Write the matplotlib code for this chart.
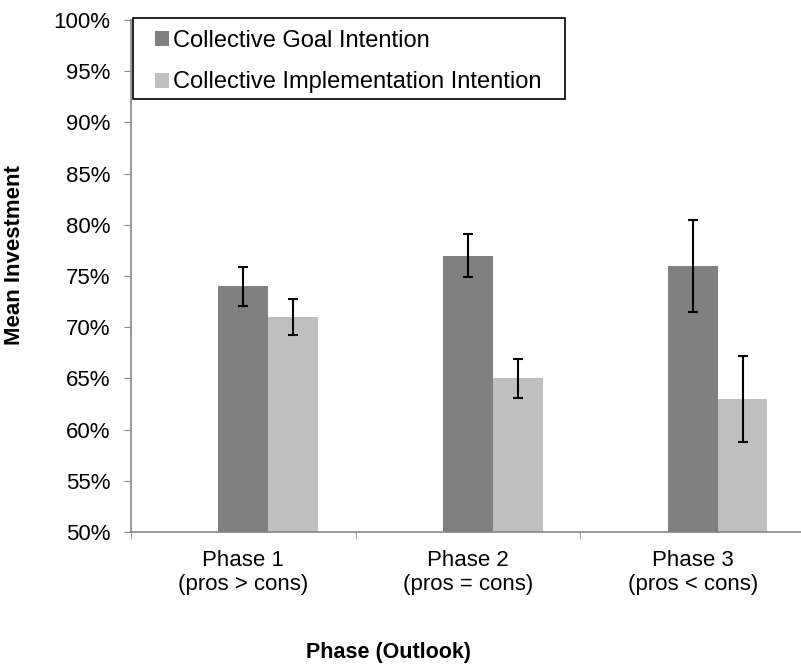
import numpy as np
import matplotlib.pyplot as plt
from matplotlib.patches import Rectangle

plt.rcParams['font.family'] = ['Liberation Sans', 'DejaVu Sans']

phases = ["Phase 1\n(pros > cons)", "Phase 2\n(pros = cons)", "Phase 3\n(pros < cons)"]
goal = [74, 77, 76]
goal_err = [1.9, 2.1, 4.5]
impl = [71, 65, 63]
impl_err = [1.8, 1.9, 4.2]
yticks = [50, 55, 60, 65, 70, 75, 80, 85, 90, 95, 100]

W, H = 801, 664
fig = plt.figure(figsize=(W / 100, H / 100), dpi=100)
ax = fig.add_axes([131 / W, (H - 532) / H, 674 / W, 512 / H])

x = np.arange(len(phases))
bw = 0.222
ekw = dict(ecolor='black', elinewidth=1.5, capsize=3.6, capthick=1.5)
ax.bar(x, goal, bw, color='#808080', yerr=goal_err,
       error_kw=ekw, label='Collective Goal Intention')
ax.bar(x + bw, impl, bw, color='#BFBFBF', yerr=impl_err,
       error_kw=ekw, label='Collective Implementation Intention')

ax.set_xlim(-0.5, 2.5)
ax.set_ylim(50, 100)
ax.set_yticks(yticks)
ax.set_yticklabels([f"{v}%" for v in yticks])
ax.set_xticks(x)
ax.set_xticklabels(phases, linespacing=1.18)
ax.set_xticks([-0.5, 0.5, 1.5, 2.5], minor=True)

for s in ['top', 'right']:
    ax.spines[s].set_visible(False)
for s in ['left', 'bottom']:
    ax.spines[s].set_color('#868686')
    ax.spines[s].set_linewidth(1.2)

ax.tick_params(axis='y', direction='out', length=5, color='#868686',
               labelsize=16, pad=10)
ax.tick_params(axis='x', which='major', length=0, labelsize=16, pad=13)
ax.tick_params(axis='x', which='minor', direction='out', length=5,
               color='#868686')

fig.text(15 / W, 1 - 255 / H, 'Mean Investment', rotation=90,
         fontsize=16, fontweight='bold', ha='center', va='center')
fig.text(389 / W, 1 - 658 / H, 'Phase (Outlook)', fontsize=15.5,
         fontweight='bold', ha='center', va='baseline')

# legend without its own frame, boxed by a separate rectangle
leg = ax.legend(loc='upper left', bbox_to_anchor=(155 / W, 1 - 30 / H),
                bbox_transform=fig.transFigure, fontsize=17, frameon=False,
                handlelength=0.6, handleheight=0.6, handletextpad=0.15,
                borderpad=0, labelspacing=0.82, borderaxespad=0)
fig.patches.append(Rectangle((133 / W, 1 - 99 / H), (565 - 133) / W, 81 / H,
                             transform=fig.transFigure, fill=False,
                             edgecolor='black', linewidth=1.2))

fig.savefig('out.png', dpi=100)
